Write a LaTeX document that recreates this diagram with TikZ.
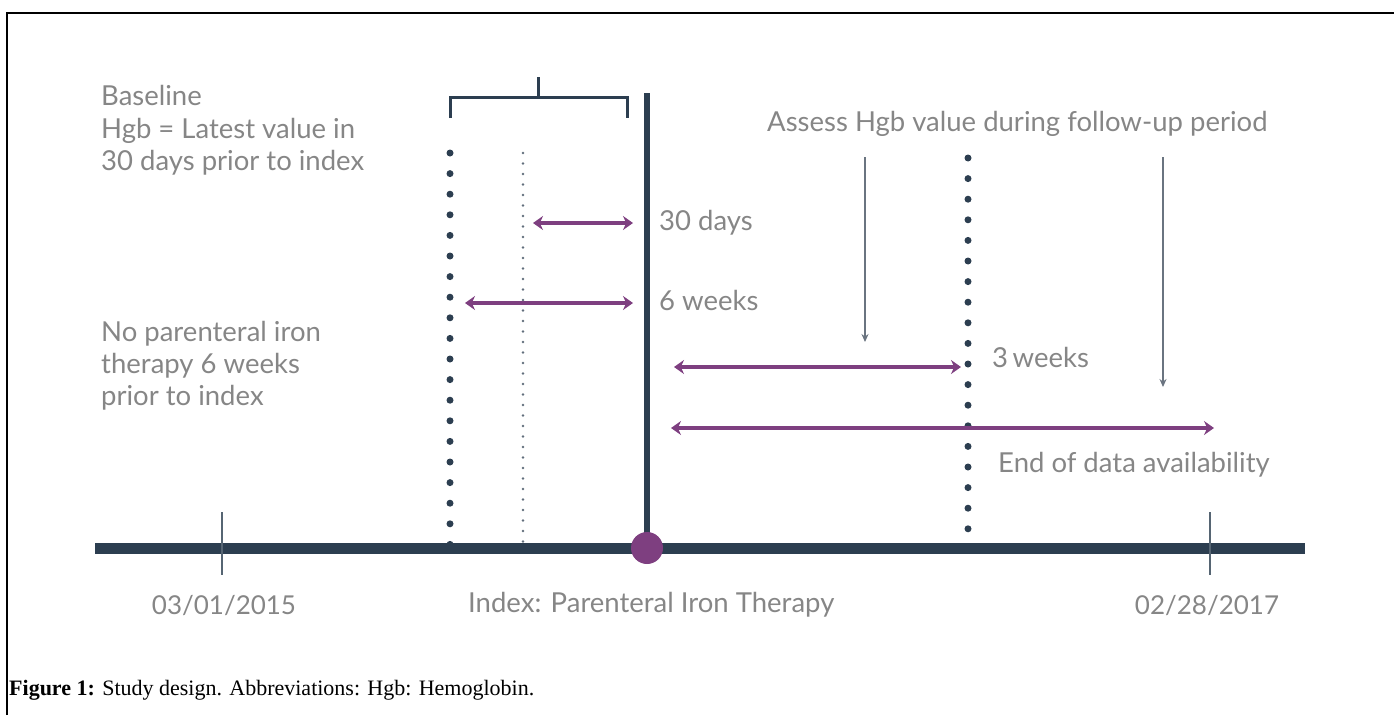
\documentclass[tikz,border=0pt]{standalone}
\usepackage{fontspec}
\setmainfont{Lato}
\newfontfamily\capfont{Liberation Serif}
\usetikzlibrary{arrows.meta}
\definecolor{navy}{HTML}{2C3E50}
\definecolor{purp}{HTML}{7E3F80}
\definecolor{txtgray}{HTML}{868686}
\definecolor{arrgray}{HTML}{6A7480}
\tikzset{
  lbl/.style={font=\fontsize{27.5}{32}\selectfont, text=txtgray, inner sep=0pt},
  datelbl/.style={font=\fontsize{26}{30}\selectfont, text=txtgray, inner sep=0pt},
  purparrow/.style={draw=purp, line width=3.4pt, {Stealth[length=10pt,width=14pt]}-{Stealth[length=10pt,width=14pt]}},
  grayarrow/.style={draw=arrgray, line width=1.4pt, -{Stealth[length=8pt,width=7pt]}},
  bigdots/.style={draw=navy, line width=7pt, line cap=round, dash pattern=on 0pt off 20.6pt},
  smalldots/.style={draw=navy!75, line width=2.8pt, line cap=round, dash pattern=on 0pt off 10.5pt},
  tick/.style={draw=navy!80, line width=1.6pt},
}
\begin{document}
\begin{tikzpicture}[x=1pt,y=-1pt]
\useasboundingbox (0,0) rectangle (1394,715);
% frame
\draw[line width=2.5pt] (7,715) -- (7,13) -- (1394,13);
% coordinates
\coordinate (tlL) at (95,548);
\coordinate (tlR) at (1305,548);
\coordinate (idxTop) at (647,93);
\coordinate (idx) at (647,548);
\coordinate (t1a) at (222,512); \coordinate (t1b) at (222,575);
\coordinate (t2a) at (1210,512); \coordinate (t2b) at (1210,575);
\coordinate (bl) at (450,118); \coordinate (blt) at (450,97);
\coordinate (brt) at (627,97); \coordinate (br) at (627,118);
\coordinate (bm) at (538,97); \coordinate (bmt) at (538,77);
\coordinate (d1a) at (450,153); \coordinate (d1b) at (450,545);
\coordinate (d2a) at (523,153); \coordinate (d2b) at (523,545);
\coordinate (d3a) at (968,158); \coordinate (d3b) at (968,532);
\coordinate (a30L) at (533,223); \coordinate (a30R) at (633,223);
\coordinate (a6L) at (465,303); \coordinate (a6R) at (633,303);
\coordinate (a3L) at (674,367); \coordinate (a3R) at (961,367);
\coordinate (aeL) at (671,428); \coordinate (aeR) at (1214,428);
\coordinate (g1a) at (865,157); \coordinate (g1b) at (865,342);
\coordinate (g2a) at (1163,157); \coordinate (g2b) at (1163,387);
% dotted lines
\draw[bigdots] (d1a) -- (d1b);
\draw[smalldots] (d2a) -- (d2b);
\draw[bigdots] (d3a) -- (d3b);
% timeline
\draw[navy, line width=11pt] (tlL) -- (tlR);
\draw[tick] (t1a) -- (t1b);
\draw[tick] (t2a) -- (t2b);
% index line
\draw[navy, line width=6pt] (idxTop) -- (idx);
\fill[purp] (idx) circle (16);
% bracket
\draw[navy, line width=3pt] (bl) -- (blt) -- (brt) -- (br);
\draw[navy, line width=3pt] (bm) -- (bmt);
% arrows
\draw[purparrow] (a30L) -- (a30R);
\draw[purparrow] (a6L) -- (a6R);
\draw[purparrow] (a3L) -- (a3R);
\draw[purparrow] (aeL) -- (aeR);
\draw[grayarrow] (g1a) -- (g1b);
\draw[grayarrow] (g2a) -- (g2b);
% labels
\node[lbl, anchor=base west] (base1) at (101,105) {Baseline};
\node[lbl, anchor=base west] (base2) at (101,138) {Hgb = Latest value in};
\node[lbl, anchor=base west] (base3) at (101,170) {30 days prior to index};
\node[lbl, anchor=base west] (np1) at (101,341) {No parenteral iron};
\node[lbl, anchor=base west] (np2) at (101,373) {therapy 6 weeks};
\node[lbl, anchor=base west] (np3) at (101,405) {prior to index};
\node[lbl, anchor=base west] (l30) at (659,230) {30 days};
\node[lbl, anchor=base west] (l6) at (659,310) {6 weeks};
\node[lbl, anchor=base west] (l3) at (992,367) {3\,weeks};
\node[lbl, anchor=base west] (lend) at (998,472) {End of data availability};
\node[lbl, anchor=base west] (lassess) at (767,131) {Assess Hgb value during follow-up period};
\node[datelbl, anchor=base] (d1) at (224,614) {03/01/2015};
\node[lbl, anchor=base west] (lidx) at (468,612) {Index: Parenteral Iron Therapy};
\node[datelbl, anchor=base] (d2) at (1207,614) {02/28/2017};
% caption
\node[anchor=base west, inner sep=0pt, font=\capfont\fontsize{22}{24}\selectfont] (cap) at (9,695) {\textbf{Figure 1:} Study design. Abbreviations: Hgb: Hemoglobin.};
\end{tikzpicture}
\end{document}
